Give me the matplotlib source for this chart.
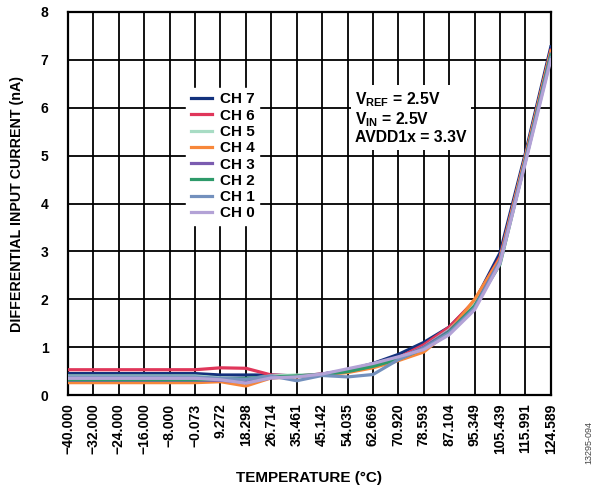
import matplotlib
matplotlib.use("Agg")
import matplotlib.pyplot as plt

plt.rcParams['font.family'] = ['Liberation Sans', 'DejaVu Sans']
plt.rcParams['mathtext.fontset'] = 'custom'
plt.rcParams['mathtext.rm'] = 'Liberation Sans:bold'
plt.rcParams['mathtext.bf'] = 'Liberation Sans:bold'

temps = ["\u221240.000", "\u221232.000", "\u221224.000", "\u221216.000", "\u22128.000",
         "\u22120.073", "9.272", "18.298", "26.714", "35.461", "45.142", "54.035",
         "62.669", "70.920", "78.593", "87.104", "95.349", "105.439", "115.991", "124.589"]

ch7 = [0.45, 0.45, 0.45, 0.45, 0.45, 0.45, 0.42, 0.42, 0.42, 0.40, 0.44, 0.52, 0.66, 0.85, 1.10, 1.42, 1.95, 2.97, 5.05, 7.27]
ch6 = [0.53, 0.53, 0.53, 0.53, 0.53, 0.53, 0.57, 0.56, 0.42, 0.40, 0.44, 0.50, 0.62, 0.78, 1.05, 1.42, 1.97, 2.88, 4.98, 7.20]
ch5 = [0.40, 0.40, 0.40, 0.40, 0.40, 0.40, 0.36, 0.34, 0.40, 0.42, 0.42, 0.48, 0.60, 0.76, 1.00, 1.36, 1.90, 2.82, 4.95, 7.15]
ch4 = [0.26, 0.26, 0.26, 0.26, 0.26, 0.26, 0.28, 0.19, 0.36, 0.38, 0.43, 0.47, 0.57, 0.72, 0.90, 1.33, 2.00, 2.85, 4.98, 7.18]
ch3 = [0.31, 0.31, 0.31, 0.31, 0.31, 0.31, 0.31, 0.27, 0.36, 0.39, 0.43, 0.50, 0.62, 0.76, 1.00, 1.34, 1.85, 2.80, 4.92, 7.12]
ch2 = [0.32, 0.32, 0.32, 0.32, 0.32, 0.32, 0.33, 0.35, 0.38, 0.40, 0.43, 0.49, 0.60, 0.75, 0.97, 1.32, 1.86, 2.73, 4.90, 7.10]
ch1 = [0.38, 0.38, 0.38, 0.38, 0.38, 0.38, 0.35, 0.33, 0.40, 0.30, 0.41, 0.38, 0.43, 0.74, 0.98, 1.30, 1.82, 2.80, 4.88, 7.05]
ch0 = [0.35, 0.35, 0.35, 0.35, 0.35, 0.35, 0.32, 0.25, 0.36, 0.38, 0.44, 0.55, 0.66, 0.80, 0.95, 1.26, 1.78, 2.75, 4.85, 7.00]

series = [("CH 7", ch7, "#13317d"), ("CH 6", ch6, "#e0365a"), ("CH 5", ch5, "#a8dcc4"),
          ("CH 4", ch4, "#f7873a"), ("CH 3", ch3, "#7b5cb0"), ("CH 2", ch2, "#2e9a6a"),
          ("CH 1", ch1, "#7390bd"), ("CH 0", ch0, "#b3a2d6")]

fig = plt.figure(figsize=(6.02, 4.97), dpi=100)
ax = fig.add_axes([0.113, 0.205, 0.802, 0.771])

x = list(range(len(temps)))
for name, vals, col in series:
    ax.plot(x, vals, color=col, lw=2.3, label=name, zorder=3)

ax.set_xlim(0, len(temps) - 1)
ax.set_ylim(0, 8)
ax.set_xticks(x)
ax.set_xticklabels(temps, rotation=90, fontweight="bold", fontsize=10)
ax.set_yticks(range(9))
ax.set_yticklabels([str(i) for i in range(9)], fontweight="bold", fontsize=10)
ax.tick_params(axis="x", length=0, pad=6)
ax.tick_params(axis="y", length=0, pad=14)
ax.grid(True, color="black", lw=1.3)
ax.set_axisbelow(True)
for s in ax.spines.values():
    s.set_linewidth(1.6)

ax.set_xlabel("TEMPERATURE (\u00b0C)", fontweight="bold", fontsize=11, labelpad=12)
ax.set_ylabel("DIFFERENTIAL INPUT CURRENT (nA)", fontweight="bold", fontsize=10.3, labelpad=12)

leg = ax.legend(loc="upper left", bbox_to_anchor=(0.229, 0.822), frameon=True,
                prop={"weight": "bold", "size": 11}, labelspacing=0.15,
                handlelength=1.4, handletextpad=0.5, borderpad=0.3, fancybox=False)
leg.get_frame().set_edgecolor("white")
leg.get_frame().set_facecolor("white")
leg.get_frame().set_alpha(1)

ax.text(0.594, 0.795, "V$_\\mathbf{REF}$ = 2.5V\nV$_\\mathbf{IN}$ = 2.5V\nAVDD1x = 3.3V",
        transform=ax.transAxes, ha="left", va="top", fontsize=11.3, fontweight="bold",
        linespacing=1.1,
        bbox=dict(facecolor="white", edgecolor="none", pad=3), zorder=5)

fig.text(0.978, 0.11, "13295-094", rotation=90, fontsize=6.5, color="#444444",
         ha="center", va="center")

fig.savefig("out.png", dpi=100)
